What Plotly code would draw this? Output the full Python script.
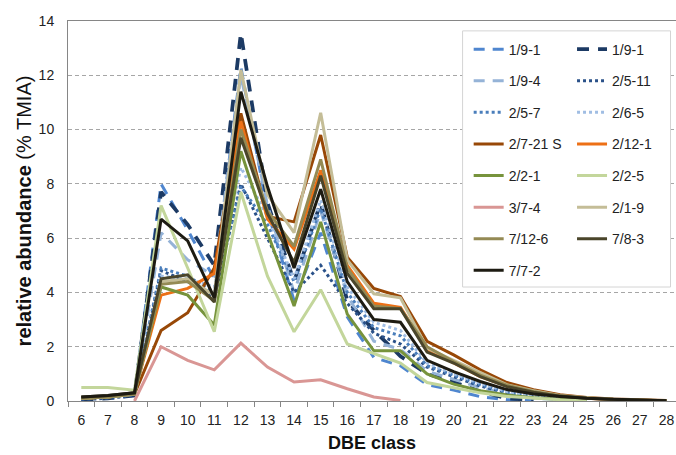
import plotly.graph_objects as go

# DBE classes on the x axis
dbe_classes = [str(c) for c in range(6, 29)]

# Relative abundance (% TMIA) per DBE class, one list per sample
s_1_9_1a = [0.1, 0.15, 0.25, 8.0, 6.3, 4.5, 12.3, 7.0, 3.7, 6.2, 3.1, 1.6, 1.3, 0.6, 0.4, 0.16, 0.05, 0.02]
s_1_9_1b = [0.05, 0.1, 0.2, 7.7, 6.5, 5.0, 13.55, 7.3, 4.4, 7.3, 3.7, 2.6, 1.65, 1.0, 0.7, 0.35, 0.1, 0.03]
s_1_9_4 = [0.1, 0.15, 0.25, 6.2, 5.2, 4.6, 12.0, 7.2, 4.0, 7.0, 3.9, 2.2, 1.9, 1.1, 0.8, 0.5, 0.25, 0.1, 0.05]
s_2_5_11 = [0.05, 0.1, 0.2, 4.8, 4.4, 3.8, 8.0, 6.0, 4.0, 5.0, 3.6, 2.5, 2.1, 1.25, 0.9, 0.55, 0.3, 0.15, 0.07, 0.03]
s_2_5_7 = [0.1, 0.15, 0.25, 4.9, 4.6, 4.0, 7.9, 6.5, 4.4, 7.1, 4.0, 2.7, 2.4, 1.3, 0.95, 0.6, 0.32, 0.16, 0.08, 0.04]
s_2_6_5 = [0.1, 0.15, 0.25, 4.6, 4.5, 4.2, 8.6, 6.8, 4.5, 7.4, 4.2, 2.9, 2.6, 1.4, 1.0, 0.65, 0.35, 0.18, 0.09, 0.04]
s_2_7_21s = [0.1, 0.15, 0.25, 2.6, 3.25, 4.9, 10.6, 6.8, 6.6, 9.8, 5.3, 4.15, 3.85, 2.2, 1.7, 1.15, 0.68, 0.42, 0.23, 0.13, 0.07, 0.04, 0.02]
s_2_12_1 = [0.1, 0.15, 0.3, 3.9, 4.15, 4.7, 10.3, 6.7, 5.6, 8.5, 5.0, 3.6, 3.45, 1.9, 1.4, 0.9, 0.55, 0.33, 0.18, 0.1, 0.05, 0.03, 0.01]
s_2_2_1 = [0.1, 0.15, 0.25, 4.2, 3.9, 2.8, 9.2, 6.2, 3.5, 6.6, 3.2, 1.85, 1.85, 1.0, 0.62, 0.38, 0.22, 0.12, 0.06, 0.03]
s_2_2_5 = [0.5, 0.5, 0.4, 7.2, 4.9, 2.55, 7.7, 4.6, 2.55, 4.1, 2.1, 1.75, 1.4, 0.68, 0.5, 0.3, 0.17, 0.1, 0.05, 0.02]
s_3_7_4 = [None, None, 0.0, 2.0, 1.5, 1.15, 2.13, 1.25, 0.7, 0.78, 0.45, 0.15, 0.02]
s_2_1_9 = [0.1, 0.15, 0.25, 4.4, 4.5, 3.9, 12.2, 7.6, 6.2, 10.62, 5.2, 3.95, 3.8, 1.95, 1.5, 1.05, 0.6, 0.38, 0.2, 0.12, 0.06, 0.03, 0.01]
s_7_12_6 = [0.1, 0.15, 0.25, 4.3, 4.4, 3.7, 10.0, 7.0, 5.7, 8.9, 4.9, 3.5, 3.4, 2.0, 1.45, 0.95, 0.58, 0.35, 0.19, 0.11, 0.06, 0.03, 0.01]
s_7_8_3 = [0.15, 0.2, 0.3, 4.5, 4.65, 3.65, 9.7, 6.9, 5.1, 8.3, 4.7, 3.4, 3.4, 1.8, 1.4, 0.9, 0.53, 0.32, 0.18, 0.1, 0.05, 0.03, 0.01]
s_7_7_2 = [0.15, 0.2, 0.3, 6.7, 5.9, 3.8, 11.4, 7.9, 4.9, 7.8, 4.4, 3.0, 2.9, 1.5, 1.08, 0.72, 0.42, 0.26, 0.17, 0.1, 0.06, 0.03, 0.01]

# name, values, colour, width, dash, legend column
series = [
    ("1/9-1", s_1_9_1a, "#4f86cf", 3, "11px,8px", "legend"),
    ("1/9-1", s_1_9_1b, "#1c3a64", 3.75, "12px,9px", "legend2"),
    ("1/9-4", s_1_9_4, "#95b3d7", 3, "11px,8px", "legend"),
    ("2/5-11", s_2_5_11, "#2a5189", 3, "dot", "legend2"),
    ("2/5-7", s_2_5_7, "#4a7ebb", 3, "dot", "legend"),
    ("2/6-5", s_2_6_5, "#a0bde3", 3, "dot", "legend2"),
    ("2/7-21 S", s_2_7_21s, "#984807", 3, "solid", "legend"),
    ("2/12-1", s_2_12_1, "#ed7016", 3, "solid", "legend2"),
    ("2/2-1", s_2_2_1, "#77933c", 3, "solid", "legend"),
    ("2/2-5", s_2_2_5, "#c3d69b", 3, "solid", "legend2"),
    ("3/7-4", s_3_7_4, "#d99694", 3, "solid", "legend"),
    ("2/1-9", s_2_1_9, "#c4bd97", 3, "solid", "legend2"),
    ("7/12-6", s_7_12_6, "#948a54", 3, "solid", "legend"),
    ("7/8-3", s_7_8_3, "#4a452a", 3, "solid", "legend2"),
    ("7/7-2", s_7_7_2, "#1d1b12", 3, "solid", "legend"),
]

FONT = "Liberation Sans, Arial, sans-serif"

fig = go.Figure()
for i, (name, vals, color, width, dash, leg) in enumerate(series):
    n = len(vals)
    fig.add_trace(go.Scatter(
        x=dbe_classes[:n], y=vals, name=name, mode="lines",
        line=dict(color=color, width=width, dash=dash),
        legend=leg, legendgroup=f"g{i}", connectgaps=False,
    ))

# frame for the two-column legend
fig.add_shape(type="rect", xref="paper", yref="paper",
              x0=0.649, x1=0.991, y0=0.30, y1=0.974,
              line=dict(color="#d4d4d4", width=1), fillcolor="white", layer="above")

leg_common = dict(orientation="v", xanchor="left", yanchor="top",
                  bgcolor="rgba(0,0,0,0)", borderwidth=0,
                  font=dict(family=FONT, size=14, color="#222222"),
                  tracegroupgap=10.4, itemclick=False, itemdoubleclick=False)

fig.update_layout(
    width=676, height=455,
    margin=dict(l=68, r=0, t=21, b=54),
    paper_bgcolor="white", plot_bgcolor="white",
    font=dict(family=FONT, size=14, color="#222222"),
    showlegend=True,
    legend=dict(x=0.659, y=0.967, **leg_common),
    legend2=dict(x=0.829, y=0.967, **leg_common),
    xaxis=dict(
        type="category", range=[-0.5, 22.36],
        tickson="boundaries", ticks="outside", ticklen=5, tickcolor="#868686",
        showline=True, linecolor="#868686", linewidth=1, mirror=True,
        showgrid=False, zeroline=False, ticklabelstandoff=6,
        tickfont=dict(family=FONT, size=14, color="#222222"),
        title=dict(text="<b>DBE class</b>", font=dict(family=FONT, size=18, color="#111111"), standoff=9),
    ),
    yaxis=dict(
        range=[0, 14], dtick=2, tick0=0,
        showline=True, linecolor="#868686", linewidth=1,
        showgrid=True, gridcolor="#a6a6a6", gridwidth=1, griddash="4px,3px",
        zeroline=False, ticks="", ticklabelstandoff=10,
        tickfont=dict(family=FONT, size=14, color="#222222"),
        title=dict(text="<b>relative abundance</b> (% TMIA)", font=dict(family=FONT, size=20, color="#111111"), standoff=1),
    ),
)

fig.write_html("out.html")
